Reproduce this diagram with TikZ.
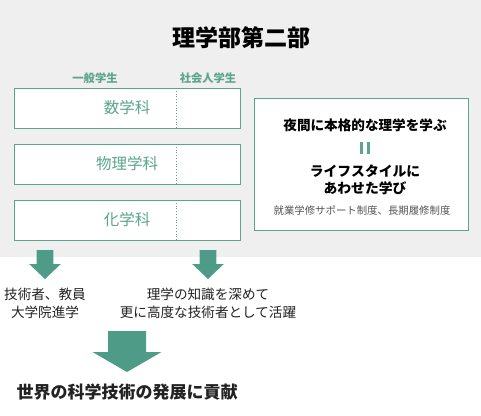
\documentclass[tikz,border=0pt]{standalone}
\usepackage{fontspec}
\setmainfont{Noto Sans CJK JP}
\usetikzlibrary{calc}
\begin{document}
\begin{tikzpicture}[x=1pt,y=-1pt,
  every node/.style={inner sep=0pt,outer sep=0pt},
  deptbox/.style={draw=boxgreen,line width=1pt,fill=white,minimum width=226pt,minimum height=40pt,anchor=north west},
  depttext/.style={text=boxgreen,font=\fontsize{15.5}{18}\selectfont},
  collabel/.style={text=boxgreen,font=\fontsize{11.3}{13}\selectfont\bfseries},
  outtext/.style={text=darktext,font=\fontsize{13.6}{18}\selectfont,align=center}
]
\definecolor{bggray}{HTML}{EFEFEF}
\definecolor{boxgreen}{HTML}{5BA48E}
\definecolor{arrowgreen}{HTML}{4E9C87}
\definecolor{darktext}{HTML}{222222}
\definecolor{graytext}{HTML}{555555}
\useasboundingbox (0,0) rectangle (481,415);
\fill[white] (0,0) rectangle (481,415);
\fill[bggray] (0,0) rectangle (481,257);
% title
\node[font=\fontsize{23}{28}\selectfont\bfseries,text=black] (title) at (241,38) {理学部第二部};
% column labels
\node[collabel] (lab1) at (95,78) {一般学生};
\node[collabel] (lab2) at (208,78) {社会人学生};
% department boxes
\node[deptbox] (b1) at (14,88) {};
\node[deptbox] (b2) at (14,144) {};
\node[deptbox] (b3) at (14,200) {};
\foreach \b in {b1,b2,b3}{
  \draw[boxgreen,dotted,line width=0.8pt] ([xshift=162pt]\b.north west) -- ([xshift=162pt]\b.south west);
}
\node[depttext] (t1) at (127,108) {数学科};
\node[depttext] (t2) at (127,164) {物理学科};
\node[depttext] (t3) at (127,220) {化学科};
% right box
\node[draw=boxgreen,line width=1pt,fill=white,minimum width=214pt,minimum height=132pt,anchor=north west] (rb) at (254,98) {};
\node[font=\fontsize{13.6}{16}\selectfont\bfseries,text=black] (r1) at (365,125) {夜間に本格的な理学を学ぶ};
\coordinate (eq) at (365,148);
\fill[boxgreen] ($(eq)+(-5,-6)$) rectangle ($(eq)+(-2.3,6)$);
\fill[boxgreen] ($(eq)+(2,-6)$) rectangle ($(eq)+(4.7,6)$);
\node[font=\fontsize{13.8}{16.5}\selectfont\bfseries,text=black,align=center] (r2) at (365,180) {ライフスタイルに\\あわせた学び};
\node[font=\fontsize{10.4}{12}\selectfont,text=graytext] (r3) at (362,211) {就業学修サポート制度、長期履修制度};
% small arrows
\coordinate (a1) at (45,250);
\coordinate (a2) at (208,250);
\foreach \a in {a1,a2}{
  \fill[arrowgreen] ($(\a)+(-8.3,0)$) -- ($(\a)+(8.3,0)$) -- ($(\a)+(8.3,14)$) -- ($(\a)+(15.8,14)$) -- ($(\a)+(0,29)$) -- ($(\a)+(-15.8,14)$) -- ($(\a)+(-8.3,14)$) -- cycle;
}
\node[outtext] (o1) at (45,303) {技術者、教員\\大学院進学};
\node[outtext] (o2) at (208,303) {理学の知識を深めて\\更に高度な技術者として活躍};
% big arrow
\coordinate (a3) at (127,331);
\fill[arrowgreen] ($(a3)+(-19,0)$) -- ($(a3)+(19,0)$) -- ($(a3)+(19,21)$) -- ($(a3)+(34.5,21)$) -- ($(a3)+(0,41)$) -- ($(a3)+(-34.5,21)$) -- ($(a3)+(-19,21)$) -- cycle;
\node[font=\fontsize{17}{20}\selectfont\bfseries,text=darktext] (final) at (127,392) {世界の科学技術の発展に貢献};
\end{tikzpicture}
\end{document}
